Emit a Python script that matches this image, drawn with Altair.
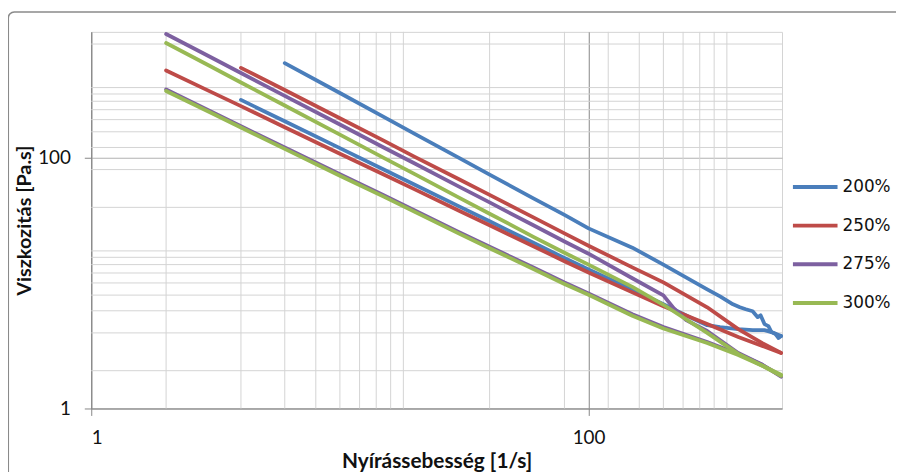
import altair as alt
import pandas as pd

# ---- data ----
SERIES = ["200%", "250%", "275%", "300%"]
COLORS = ["#4A7EBB", "#BE4B48", "#7D60A0", "#98B954"]

X_MAIN = [2, 3, 4, 6, 10, 15, 20, 30, 40, 60, 80, 100, 150, 200, 300, 400, 500, 595]

x_200a = [6, 10, 15, 20, 30, 40, 60, 80, 100, 150, 200, 300, 338, 381, 406, 429, 457, 479, 492, 510, 529, 544, 565, 581, 595]
v_200a = [564, 326, 210, 154, 99.5, 73, 47.2, 34.8, 27.2, 19.1, 14.0, 8.88, 7.82, 6.76, 6.40, 6.17, 5.95, 5.34, 5.53, 4.70, 4.53, 4.06, 3.92, 3.64, 3.78]

x_200b = [4, 6, 10, 15, 20, 30, 40, 60, 80, 100, 150, 200, 265, 300, 338, 400, 457, 510, 544, 595]
v_200b = [287, 194, 118.5, 80.1, 60.6, 40.9, 31.0, 20.9, 15.8, 12.8, 8.88, 6.76, 5.15, 4.61, 4.45, 4.29, 4.21, 4.21, 4.06, 3.78]

x_250a = [4, 6, 10, 15, 20, 30, 40, 60, 80, 100, 150, 200, 300, 400, 500, 595]
v_250a = [517, 344, 205, 136, 101, 67.3, 50.3, 33.3, 24.8, 19.8, 13.3, 10.1, 6.40, 4.29, 3.32, 2.77]

x_250b = X_MAIN
v_250b = [493, 336, 256, 174, 107, 73.1, 55.6, 37.8, 28.8, 19.6, 14.9, 12.1, 8.41, 6.52, 4.70, 3.71, 3.15, 2.77]

x_275a = [2, 3, 4, 6, 10, 15, 20, 30, 40, 60, 80, 100, 150, 200, 220, 247, 300, 400, 500, 595]
v_275a = [961, 634, 470, 309, 183, 120, 89.4, 58.7, 43.8, 28.8, 21.4, 17.1, 10.9, 7.97, 6.29, 5.05, 4.14, 2.77, 2.23, 1.82]

x_275b = X_MAIN
v_275b = [348, 235, 177, 120, 73.4, 50.1, 37.8, 25.5, 19.4, 13.3, 10.1, 8.26, 5.64, 4.45, 3.39, 2.72, 2.23, 1.79]

x_300a = X_MAIN
v_300a = [815, 535, 395, 259, 152, 99.3, 73.5, 48.1, 35.6, 23.3, 17.4, 14.0, 9.3, 6.7, 4.0, 2.72, 2.19, 1.86]

x_300b = X_MAIN
v_300b = [338, 229, 173, 117, 71.4, 48.7, 36.8, 24.8, 18.9, 12.9, 9.82, 8.04, 5.48, 4.33, 3.32, 2.67, 2.19, 1.82]

X_GRID = [2, 4, 6, 8, 10, 12, 14, 16, 18, 40, 80, 120, 160, 200, 240, 280, 320, 360]
Y_GRID = [2, 4, 6, 8, 10, 12, 14, 16, 18, 40, 80, 120, 160, 200, 240, 280, 320, 360, 800]
MAJOR_TICKS = [1, 100]

X_TITLE = "Nyírássebesség [1/s]"
Y_TITLE = "Viszkozitás [Pa.s]"

# ---- build long table ----
curves = [
    ("200%", "200a", x_200a, v_200a),
    ("200%", "200b", x_200b, v_200b),
    ("250%", "250a", x_250a, v_250a),
    ("250%", "250b", x_250b, v_250b),
    ("275%", "275a", x_275a, v_275a),
    ("275%", "275b", x_275b, v_275b),
    ("300%", "300a", x_300a, v_300a),
    ("300%", "300b", x_300b, v_300b),
]
rows = []
for s, cid, xs, vs in curves:
    for i, (xv, yv) in enumerate(zip(xs, vs)):
        rows.append({"shear": xv, "visc": yv, "series": s, "curve": cid, "i": i})
df = pd.DataFrame(rows)

W, H = 697, 380
xscale = alt.Scale(type="log", domain=[1, 600], nice=False)
yscale = alt.Scale(type="log", domain=[1, 1000], nice=False)

FONT = "Lato"

x_axis = alt.Axis(
    values=MAJOR_TICKS, format="d", grid=True, gridColor="#868686",
    domainColor="#868686", tickColor="#868686", tickSize=7,
    labelFont=FONT, labelFontSize=19, labelColor="#111111", labelPadding=13,
    title=X_TITLE, titleFont=FONT, titleFontSize=21, titleFontWeight="bold",
    titleColor="#111111", titleY=60, titleBaseline="alphabetic",
)
y_axis = alt.Axis(
    values=MAJOR_TICKS, format="d", grid=True, gridColor="#b0b0b0",
    domainColor="#868686", tickColor="#868686", tickSize=7,
    labelFont=FONT, labelFontSize=19, labelColor="#111111", labelPadding=14,
    title=Y_TITLE, titleFont=FONT, titleFontSize=20, titleFontWeight="bold",
    titleColor="#111111", titleX=-61, titleY=H / 2, titleAngle=270,
    titleBaseline="alphabetic", titleAlign="center",
)

border = alt.Chart(alt.Data(values=[{}])).mark_rect(
    filled=False, stroke="#8a8a8a", strokeWidth=1.5, cornerRadius=6, clip=False
).encode(
    x=alt.value(-83.7), x2=alt.value(1200), y=alt.value(-20), y2=alt.value(900)
)

vgrid = alt.Chart(pd.DataFrame({"gx": X_GRID})).mark_rule(
    color="#d3d3d3", strokeWidth=1
).encode(x=alt.X("gx:Q", scale=xscale, axis=x_axis, title=X_TITLE))

hgrid = alt.Chart(pd.DataFrame({"gy": Y_GRID})).mark_rule(
    color="#d3d3d3", strokeWidth=1
).encode(y=alt.Y("gy:Q", scale=yscale, axis=y_axis, title=Y_TITLE))

lines = alt.Chart(df).mark_line(strokeWidth=3.8, strokeJoin="round", strokeCap="round").encode(
    x=alt.X("shear:Q", scale=xscale, axis=x_axis, title=X_TITLE),
    y=alt.Y("visc:Q", scale=yscale, axis=y_axis, title=Y_TITLE),
    color=alt.Color(
        "series:N",
        scale=alt.Scale(domain=SERIES, range=COLORS),
        legend=alt.Legend(
            title=None, orient="none", legendX=706, legendY=132,
            symbolType="stroke", symbolSize=2025, symbolStrokeWidth=4,
            labelFont="DejaVu Sans", labelFontSize=17, labelColor="#111111",
            labelOffset=3, rowPadding=6, padding=0,
        ),
    ),
    detail="curve:N",
    order="i:Q",
)

chart = alt.layer(border, vgrid, hgrid, lines).properties(
    width=W, height=H,
    autosize=alt.AutoSizeParams(type="none"),
    padding={"left": 84, "top": 22, "right": 115, "bottom": 62},
    background="white",
).configure_view(stroke="#d3d3d3", strokeWidth=1)

chart.save("out.html", embed_options={"renderer": "svg", "actions": False})
